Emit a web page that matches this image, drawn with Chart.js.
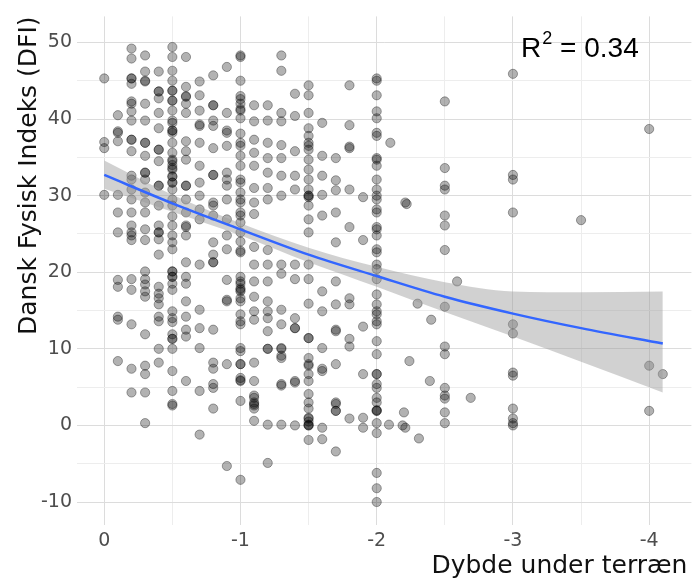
<!DOCTYPE html>
<html>
<head>
<meta charset="utf-8">
<script src="https://cdn.jsdelivr.net/npm/chart.js@4.4.1/dist/chart.umd.min.js"></script>
<style>
html, body { margin: 0; padding: 0; background: #fff; }
#wrap { width: 697px; height: 578px; }
</style>
</head>
<body>
<div id="wrap"><canvas id="chart"></canvas></div>
<script>
// DFI values per depth column (depth in m below terrain, negative)
const dfi_0_0 = [45.3, 37.0, 36.2, 30.1];
const dfi_0_1 = [40.5, 38.4, 37.1, 38.2, 30.1, 27.8, 25.2, 19.0, 18.1, 14.2, 13.8, 8.4];
const dfi_0_2 = [49.2, 47.9, 45.3, 45.3, 44.6, 42.3, 42.0, 41.0, 39.8, 37.3, 37.3, 35.8, 32.6, 32.1, 30.8, 29.5, 27.8, 26.1, 25.2, 24.8, 24.2, 19.1, 17.7, 13.2, 7.4, 4.3];
const dfi_0_3 = [48.3, 46.2, 45.0, 44.9, 42.0, 39.8, 36.9, 36.9, 35.2, 33.0, 33.0, 32.1, 30.4, 29.1, 27.8, 25.6, 24.2, 20.1, 19.1, 18.4, 17.5, 16.8, 11.9, 7.8, 6.7, 4.3, 0.3];
const dfi_0_4 = [46.2, 43.6, 43.6, 42.7, 40.8, 38.8, 36.0, 36.0, 34.5, 31.3, 31.3, 28.7, 26.1, 25.2, 25.2, 24.3, 22.3, 18.1, 17.2, 16.6, 15.8, 14.2, 13.6, 10.0, 8.2];
const dfi_0_5 = [49.4, 48.1, 46.3, 45.0, 43.7, 43.7, 42.4, 42.4, 41.1, 39.8, 39.5, 38.5, 38.5, 38.2, 36.9, 35.6, 34.7, 34.5, 34.0, 33.6, 33.4, 32.5, 32.5, 31.7, 31.7, 30.8, 29.5, 28.7, 27.3, 26.1, 24.8, 23.9, 23.0, 20.1, 20.1, 19.4, 19.4, 18.5, 17.7, 14.9, 14.0, 13.5, 11.9, 11.3, 11.3, 10.0, 7.1, 4.5, 2.8, 2.6];
const dfi_0_6 = [48.1, 44.2, 43.0, 42.9, 42.0, 40.8, 37.1, 35.8, 34.7, 31.3, 31.3, 29.5, 27.8, 26.1, 25.9, 24.8, 21.3, 19.4, 18.5, 16.2, 14.2, 12.5, 11.6, 5.8];
const dfi_0_7 = [44.9, 43.1, 41.1, 39.3, 39.1, 36.9, 33.9, 31.7, 30.0, 28.2, 26.9, 21.0, 15.1, 12.7, 10.1, 4.5, -1.2];
const dfi_0_8 = [45.7, 41.8, 41.8, 39.8, 39.1, 36.2, 32.7, 32.7, 29.1, 28.7, 27.4, 23.9, 22.3, 21.3, 21.3, 12.5, 8.2, 7.4, 5.4, 4.9, 2.2];
const dfi_0_9 = [46.8, 40.8, 38.5, 38.2, 36.5, 33.0, 32.1, 31.3, 29.5, 26.9, 24.8, 23.0, 19.0, 16.4, 16.2, 8.0, -5.3];
const dfi_1_0 = [48.3, 48.1, 45.0, 43.0, 42.6, 42.0, 41.3, 41.1, 40.1, 38.1, 36.9, 36.5, 35.2, 33.9, 32.1, 31.7, 30.4, 29.5, 29.1, 27.8, 27.4, 26.5, 25.2, 24.0, 22.8, 22.6, 19.4, 18.8, 18.5, 17.9, 17.7, 17.5, 16.6, 16.2, 14.5, 13.6, 13.2, 10.1, 9.7, 8.0, 8.0, 6.2, 5.8, 5.9, 3.2, -7.1];
const dfi_1_1 = [41.8, 39.7, 37.3, 35.6, 33.9, 31.0, 29.1, 27.6, 23.3, 21.0, 18.8, 16.8, 14.9, 13.8, 8.2, 5.8, 3.9, 3.6, 3.0, 2.8, 2.6, 2.2, 0.6];
const dfi_1_2 = [41.8, 39.8, 36.9, 34.9, 33.0, 31.0, 29.5, 22.9, 21.0, 18.8, 16.2, 14.9, 14.0, 12.3, 10.0, 10.0, 0.1, -4.9];
const dfi_1_3 = [48.3, 46.3, 40.8, 39.7, 36.6, 34.9, 32.6, 30.0, 21.0, 19.8, 15.1, 13.2, 10.1, 10.0, 9.1, 8.8, 5.4, 5.2, 0.1];
const dfi_1_4 = [43.3, 40.4, 35.8, 32.6, 30.8, 21.0, 19.1, 14.0, 12.7, 12.7, 5.8, 5.6, 0.0];
const dfi_1_5 = [44.4, 43.1, 40.8, 38.8, 37.8, 36.9, 36.5, 36.0, 34.7, 33.4, 32.1, 30.8, 30.0, 30.0, 29.8, 28.7, 26.9, 25.2, 21.0, 19.1, 15.9, 11.4, 11.4, 8.8, 8.0, 7.8, 6.7, 5.8, 4.1, 3.0, 2.2, 1.0, 0.9, 0.5, 0.1, 0.0, 0.0, -1.9];
const dfi_1_6 = [39.5, 35.2, 32.6, 30.1, 27.4, 17.5, 14.9, 10.1, 7.4, 7.1, -0.3, -1.8];
const dfi_1_7 = [34.9, 32.0, 30.7, 27.8, 23.9, 18.8, 15.8, 12.5, 12.3, 8.0, 3.0, 2.8, 1.9, 1.9, -3.4];
const dfi_1_8 = [44.4, 39.2, 36.4, 36.2, 30.8, 25.9, 16.6, 15.8, 11.3, 10.3, 0.9];
const dfi_1_9 = [29.8, 24.2, 12.9, 6.7, 1.0, -0.3];
const dfi_2_0 = [45.3, 45.0, 43.1, 41.0, 40.1, 38.2, 37.8, 34.9, 34.7, 33.9, 32.1, 30.8, 30.0, 29.5, 28.2, 27.8, 25.9, 25.6, 24.8, 23.0, 22.6, 21.0, 20.4, 19.1, 17.1, 15.8, 14.9, 14.5, 13.6, 13.2, 11.0, 9.3, 6.7, 6.7, 5.4, 4.9, 3.6, 3.0, 2.0, 1.9, 1.9, 0.3, -1.0, -6.2, -8.2, -10.0];
const dfi_2_5 = [42.3, 33.6, 31.3, 30.8, 27.4, 26.1, 22.9, 15.5, 10.3, 9.3, 4.9, 3.9, 3.5, 1.7, 0.3];
const dfi_3_0 = [45.9, 32.7, 32.1, 27.8, 13.2, 12.0, 6.9, 6.5, 2.2, 0.9, 0.3, 0.0];
const dfi_4_0 = [38.7, 7.8, 1.9];

// single points off the main columns
const looseDepth = [-2.1, -2.09, -2.19, -2.2, -2.21, -2.22, -2.24, -2.21, -2.3, -2.31, -2.4, -2.39, -2.59, -2.69, -3.5, -4.1];
const looseDfi   = [36.9, 0.1, 0.0, 1.7, 29.1, 28.9, 8.4, -0.3, 15.9, -1.7, 13.8, 5.8, 18.8, 3.6, 26.8, 6.7];

// fitted curve and confidence band
const fitDepth = [0, -0.5, -1, -1.5, -2, -2.5, -3, -3.5, -4.1];
const fitDfi   = [32.7, 29.0, 25.6, 22.3, 19.5, 16.8, 14.6, 12.7, 10.7];
const bandLow  = [30.9, 27.9, 24.8, 21.3, 18.1, 14.8, 11.6, 8.3, 4.3];
const bandHigh = [34.6, 30.1, 26.4, 23.2, 20.7, 18.7, 17.5, 17.4, 17.5];

const r2Text = '0.34';
const xTitle = 'Dybde under terræn';

const columns = [
  [0, dfi_0_0], [-0.1, dfi_0_1], [-0.2, dfi_0_2], [-0.3, dfi_0_3], [-0.4, dfi_0_4],
  [-0.5, dfi_0_5], [-0.6, dfi_0_6], [-0.7, dfi_0_7], [-0.8, dfi_0_8], [-0.9, dfi_0_9],
  [-1, dfi_1_0], [-1.1, dfi_1_1], [-1.2, dfi_1_2], [-1.3, dfi_1_3], [-1.4, dfi_1_4],
  [-1.5, dfi_1_5], [-1.6, dfi_1_6], [-1.7, dfi_1_7], [-1.8, dfi_1_8], [-1.9, dfi_1_9],
  [-2, dfi_2_0], [-2.5, dfi_2_5], [-3, dfi_3_0], [-4, dfi_4_0]
];

const points = [];
columns.forEach(([d, vals]) => vals.forEach(v => points.push({ x: d, y: v })));
looseDepth.forEach((d, i) => points.push({ x: d, y: looseDfi[i] }));

const isWhole = (v, step) => Math.abs(v / step - Math.round(v / step)) < 1e-6;
const gridColor = step => ctx => isWhole(ctx.tick.value, step) ? '#dcdcdc' : '#ededed';

const tickFont = { family: 'DejaVu Sans', size: 19 };
const titleFont = { family: 'DejaVu Sans', size: 25 };

// R^2 label and x title (Chart.js misplaces an 'end' title on a reversed axis)
const labelsPlugin = {
  id: 'labels',
  afterDraw(chart) {
    const { ctx, scales: { x, y } } = chart;
    let px = x.getPixelForValue(-3.06);
    const py = y.getPixelForValue(48.1);
    ctx.save();
    ctx.fillStyle = '#000';
    ctx.textBaseline = 'alphabetic';
    ctx.font = '28px "Liberation Sans"';
    ctx.fillText('R', px, py);
    px += ctx.measureText('R').width + 1;
    ctx.font = '18px "Liberation Sans"';
    ctx.fillText('2', px, py - 13);
    px += ctx.measureText('2').width;
    ctx.font = '28px "Liberation Sans"';
    ctx.fillText(' = ' + r2Text, px, py);

    ctx.fillStyle = '#111';
    ctx.font = '25px "DejaVu Sans"';
    ctx.textAlign = 'right';
    ctx.fillText(xTitle, x.right - 4, x.bottom - 5);
    ctx.restore();
  }
};

new Chart(document.getElementById('chart'), {
  type: 'scatter',
  data: {
    datasets: [
      {
        data: points,
        pointRadius: 4.6,
        backgroundColor: 'rgba(0,0,0,0.3)',
        borderColor: 'rgba(0,0,0,0.34)',
        borderWidth: 1,
        order: 3
      },
      {
        data: fitDepth.map((d, i) => ({ x: d, y: bandLow[i] })),
        showLine: true,
        pointRadius: 0,
        borderWidth: 0,
        borderColor: 'rgba(0,0,0,0)',
        cubicInterpolationMode: 'monotone',
        fill: false,
        order: 2
      },
      {
        data: fitDepth.map((d, i) => ({ x: d, y: bandHigh[i] })),
        showLine: true,
        pointRadius: 0,
        borderWidth: 0,
        borderColor: 'rgba(0,0,0,0)',
        cubicInterpolationMode: 'monotone',
        fill: '-1',
        backgroundColor: 'rgba(153,153,153,0.45)',
        order: 2
      },
      {
        data: fitDepth.map((d, i) => ({ x: d, y: fitDfi[i] })),
        showLine: true,
        pointRadius: 0,
        borderWidth: 2.5,
        borderColor: '#3366ff',
        cubicInterpolationMode: 'monotone',
        fill: false,
        order: 1
      }
    ]
  },
  options: {
    responsive: true,
    maintainAspectRatio: false,
    animation: false,
    layout: { padding: { top: 12, right: 0, left: 0, bottom: 0 } },
    plugins: {
      legend: { display: false },
      tooltip: { enabled: false }
    },
    scales: {
      x: {
        type: 'linear',
        reverse: true,
        min: -4.31,
        max: 0.2,
        border: { display: false },
        grid: { color: gridColor(1), drawTicks: false },
        ticks: {
          stepSize: 0.5,
          includeBounds: false,
          autoSkip: false,
          maxRotation: 0,
          padding: 5,
          color: '#4d4d4d',
          font: tickFont,
          callback: v => isWhole(v, 1) ? String(Math.round(v) || 0) : ''
        },
        afterFit: s => { s.height = 53; }
      },
      y: {
        type: 'linear',
        min: -13,
        max: 53.4,
        border: { display: false },
        grid: { color: gridColor(10), drawTicks: false },
        ticks: {
          stepSize: 5,
          includeBounds: false,
          autoSkip: false,
          padding: 5,
          color: '#4d4d4d',
          font: tickFont,
          callback: v => isWhole(v, 10) ? String(Math.round(v) || 0) : ''
        },
        title: {
          display: true,
          text: 'Dansk Fysisk Indeks (DFI)',
          align: 'end',
          color: '#111',
          font: titleFont,
          padding: { top: 14, bottom: 0 }
        },
        afterFit: s => { s.width = 77; }
      }
    }
  },
  plugins: [labelsPlugin]
});
</script>
</body>
</html>
